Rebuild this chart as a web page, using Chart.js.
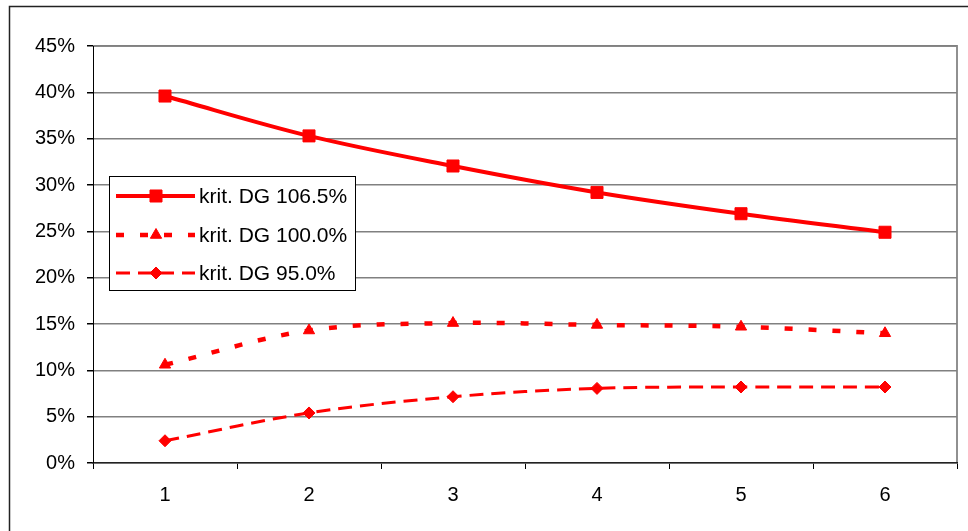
<!DOCTYPE html>
<html>
<head>
<meta charset="utf-8">
<script src="https://cdn.jsdelivr.net/npm/chart.js@4/dist/chart.umd.min.js"></script>
<style>
  html, body { margin: 0; padding: 0; background: #fff; }
  #wrap { width: 968px; height: 531px; }
</style>
</head>
<body>
<div id="wrap"><canvas id="c" width="968" height="531"></canvas></div>
<script>
// Categories on the x axis
const categories = ['1', '2', '3', '4', '5', '6'];

// Series values, in percent
const seriesNames = ['krit. DG 106.5%', 'krit. DG 100.0%', 'krit. DG 95.0%'];
const dg1065 = [39.6, 35.3, 32.05, 29.2, 26.9, 24.9];
const dg1000 = [10.6, 14.3, 15.1, 14.9, 14.7, 14.0];
const dg950  = [2.4, 5.4, 7.15, 8.05, 8.2, 8.2];

// Y axis ticks (percent)
const yMin = 0, yMax = 45, yStep = 5;

const RED = '#ff0000';
const FONT = "'Liberation Sans', Arial, sans-serif";

// Outer frame and plot-area border
const framePlugin = {
  id: 'frame',
  beforeDraw(chart) {
    const ctx = chart.ctx;
    const a = chart.chartArea;
    ctx.save();
    ctx.fillStyle = '#fff';
    ctx.fillRect(0, 0, chart.width, chart.height);
    ctx.strokeStyle = '#222';
    ctx.lineWidth = 1.5;
    ctx.strokeRect(9.5, 6.5, chart.width + 20, chart.height + 20);
    ctx.strokeStyle = '#909090';
    ctx.lineWidth = 2;
    ctx.beginPath();
    ctx.moveTo(a.left, a.top);
    ctx.lineTo(a.right, a.top);
    ctx.lineTo(a.right, a.bottom);
    ctx.stroke();
    ctx.restore();
  }
};

// Boxed legend inside the plot area, with line + marker samples
const boxLegend = {
  id: 'boxLegend',
  afterDraw(chart) {
    const ctx = chart.ctx;
    const bx = 109.5, by = 176.5, bw = 246, bh = 114;
    ctx.save();
    ctx.fillStyle = '#fff';
    ctx.fillRect(bx, by, bw, bh);
    ctx.strokeStyle = '#000';
    ctx.lineWidth = 1;
    ctx.strokeRect(bx, by, bw, bh);
    const rows = [196, 235, 273];
    chart.data.datasets.forEach((ds, i) => {
      const y = rows[i];
      ctx.save();
      ctx.strokeStyle = ds.borderColor;
      ctx.lineWidth = ds.borderWidth;
      ctx.setLineDash(ds.borderDash || []);
      ctx.beginPath();
      ctx.moveTo(116, y);
      ctx.lineTo(195, y);
      ctx.stroke();
      ctx.restore();
      ctx.save();
      ctx.fillStyle = ds.pointBackgroundColor;
      ctx.strokeStyle = ds.pointBorderColor;
      ctx.lineWidth = 1;
      ctx.setLineDash([]);
      Chart.helpers.drawPoint(ctx, {
        pointStyle: ds.pointStyle,
        radius: ds.pointRadius,
        rotation: 0,
        borderWidth: 1
      }, 156, y);
      ctx.restore();
      ctx.fillStyle = '#000';
      ctx.font = '21px ' + FONT;
      ctx.textBaseline = 'middle';
      ctx.textAlign = 'left';
      ctx.fillText(ds.label, 199, y + 1);
    });
    ctx.restore();
  }
};

function makeSeries(label, data, style) {
  return Object.assign({
    label: label,
    data: data,
    borderColor: RED,
    backgroundColor: RED,
    pointBackgroundColor: RED,
    pointBorderColor: RED,
    pointBorderWidth: 1,
    tension: 0.35,
    fill: false
  }, style);
}

new Chart(document.getElementById('c'), {
  type: 'line',
  data: {
    labels: categories,
    datasets: [
      makeSeries(seriesNames[0], dg1065, { borderWidth: 4, pointStyle: 'rect', pointRadius: 8.5 }),
      makeSeries(seriesNames[1], dg1000, { borderWidth: 4.5, borderDash: [8, 16], pointStyle: 'triangle', pointRadius: 6.5 }),
      makeSeries(seriesNames[2], dg950,  { borderWidth: 3, borderDash: [14, 8], pointStyle: 'rectRot', pointRadius: 6 })
    ]
  },
  options: {
    responsive: false,
    animation: false,
    devicePixelRatio: 1,
    layout: { padding: { left: 0, top: 46, right: 11, bottom: 0 } },
    plugins: {
      legend: { display: false },
      tooltip: { enabled: false }
    },
    scales: {
      x: {
        type: 'category',
        offset: true,
        afterFit(scale) { scale.height = 68; },
        grid: {
          offset: true,
          drawOnChartArea: false,
          drawTicks: true,
          tickLength: 6,
          tickColor: '#000'
        },
        border: { display: true, color: '#222', width: 1.5 },
        ticks: {
          color: '#000',
          font: { family: FONT, size: 20 },
          padding: 14,
          maxRotation: 0
        }
      },
      y: {
        min: yMin,
        max: yMax,
        afterFit(scale) { scale.width = 93; },
        grid: {
          color: '#808080',
          lineWidth: 1.5,
          drawTicks: true,
          tickLength: 6,
          tickColor: '#000'
        },
        border: { display: true, color: '#000', width: 1 },
        ticks: {
          stepSize: yStep,
          color: '#000',
          font: { family: FONT, size: 20 },
          padding: 12,
          callback: v => v + '%'
        }
      }
    }
  },
  plugins: [framePlugin, boxLegend]
});
</script>
</body>
</html>
